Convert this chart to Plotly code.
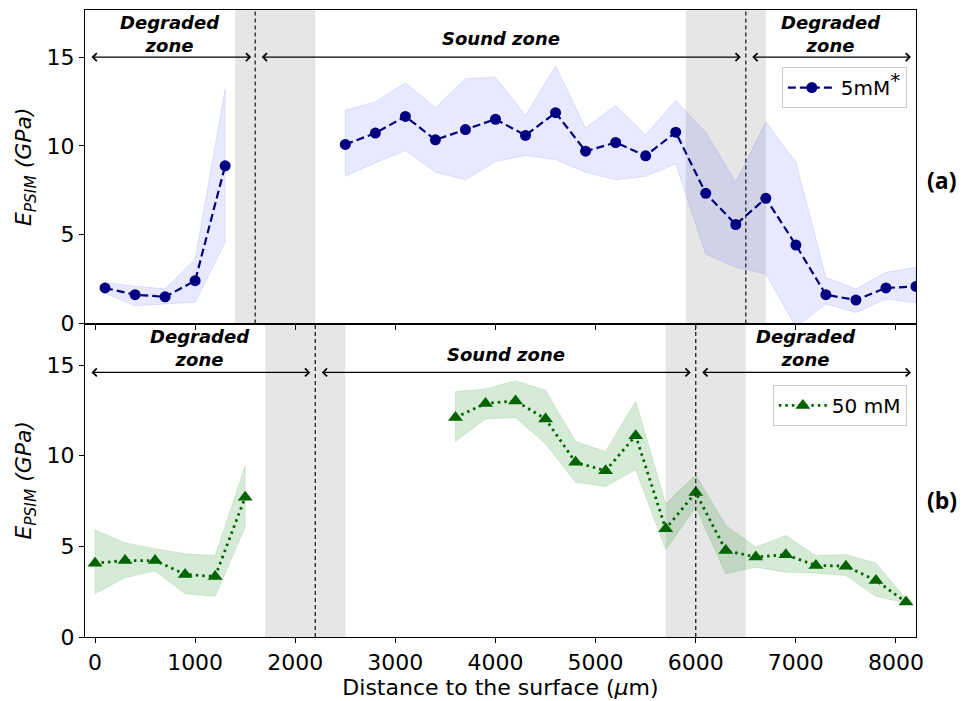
import plotly.graph_objects as go

# ---------------- data ----------------
# Panel (a): 5mM*
x_a = [100, 400, 700, 1000, 1300, None,
       2500, 2800, 3100, 3400, 3700, 4000, 4300, 4600, 4900, 5200,
       5500, 5800, 6100, 6400, 6700, 7000, 7300, 7600, 7900, 8200]
e_a = [2.00, 1.62, 1.50, 2.41, 8.88, None,
       10.08, 10.72, 11.66, 10.34, 10.92, 11.50, 10.59, 11.87, 9.70, 10.19,
       9.44, 10.77, 7.33, 5.57, 7.05, 4.42, 1.62, 1.32, 2.00, 2.09]
up_a = [2.30, 2.10, 1.95, 3.60, 13.20, None,
        12.00, 12.47, 13.56, 12.15, 13.78, 13.87, 11.71, 14.50, 11.00, 12.28,
        10.62, 12.56, 10.77, 7.95, 11.34, 9.08, 2.60, 1.94, 2.88, 3.16]
lo_a = [1.70, 1.00, 1.10, 1.20, 4.57, None,
        8.29, 9.05, 9.74, 8.52, 8.09, 9.12, 9.46, 9.23, 8.52, 8.09,
        8.29, 8.99, 3.91, 3.16, 2.79, -0.20, 1.10, 0.62, 1.38, 1.18]

# Panel (b): 50 mM
x_b = [0, 300, 600, 900, 1200, 1500, None,
       3600, 3900, 4200, 4500, 4800, 5100, 5400, 5700, 6000, 6300,
       6600, 6900, 7200, 7500, 7800, 8100]
e_b = [4.07, 4.22, 4.22, 3.45, 3.34, 7.71, None,
       12.11, 12.89, 13.03, 12.03, 9.64, 9.18, 11.11, 5.97, 7.98, 4.77,
       4.41, 4.54, 3.95, 3.91, 3.12, 1.93]
up_b = [5.91, 5.20, 4.87, 4.59, 4.50, 9.45, None,
        13.55, 13.68, 14.14, 13.62, 10.79, 10.24, 13.03, 7.35, 8.96, 6.15,
        4.96, 5.60, 4.50, 4.55, 4.08, 2.11]
lo_b = [2.39, 3.27, 3.64, 2.39, 2.24, 6.06, None,
        10.79, 12.03, 12.11, 10.65, 8.54, 8.30, 9.23, 4.81, 7.16, 3.49,
        3.85, 3.58, 3.52, 3.40, 2.24, 1.87]

# zone boundaries (um)
transition_a = [[1400, 2200], [5900, 6700]]
boundary_a = [1600, 6500]
transition_b = [[1700, 2500], [5700, 6500]]
boundary_b = [2200, 6000]

labels_a = ["5mM<sup><span style='font-size:20px'>*</span></sup>"]
labels_b = ["50 mM"]
zone_names = ["Degraded<br>zone", "Sound zone", "Degraded<br>zone"]
x_ticks = [0, 1000, 2000, 3000, 4000, 5000, 6000, 7000, 8000]
y_ticks = [0, 5, 10, 15]
x_lim = [-100, 8200]

FONT = "DejaVu Sans"


def band_polygon(xs, up, lo):
    """Split at None gaps; build closed polygons upper->lower reversed."""
    segs, cur = [], []
    for xv, u, l in zip(xs, up, lo):
        if xv is None:
            if cur:
                segs.append(cur)
            cur = []
        else:
            cur.append((xv, u, l))
    if cur:
        segs.append(cur)
    px, py = [], []
    for s in segs:
        xs_ = [p[0] for p in s]
        us = [p[1] for p in s]
        ls = [p[2] for p in s]
        px += xs_ + xs_[::-1] + [xs_[0], None]
        py += us + ls[::-1] + [us[0], None]
    return px[:-1], py[:-1]


fig = go.Figure()

# bands
bx, by = band_polygon(x_a, up_a, lo_a)
fig.add_trace(go.Scatter(x=bx, y=by, fill="toself", mode="lines",
                         fillcolor="rgba(0,0,255,0.09)",
                         line=dict(color="rgba(0,0,255,0.10)", width=1),
                         hoverinfo="skip", showlegend=False,
                         xaxis="x", yaxis="y"))
bx, by = band_polygon(x_b, up_b, lo_b)
fig.add_trace(go.Scatter(x=bx, y=by, fill="toself", mode="lines",
                         fillcolor="rgba(0,128,0,0.16)",
                         line=dict(color="rgba(0,128,0,0.12)", width=1),
                         hoverinfo="skip", showlegend=False,
                         xaxis="x2", yaxis="y2"))

# lines
fig.add_trace(go.Scatter(x=x_a, y=e_a, mode="lines+markers", name=labels_a[0],
                         line=dict(color="#000080", width=2.2, dash="8px,4px"),
                         marker=dict(symbol="circle", size=11, color="#000080"),
                         xaxis="x", yaxis="y", legend="legend"))
fig.add_trace(go.Scatter(x=x_b, y=e_b, mode="lines+markers", name=labels_b[0],
                         line=dict(color="#006400", width=2.8, dash="2.5px,4px"),
                         marker=dict(symbol="triangle-up", size=13, color="#006400"),
                         xaxis="x2", yaxis="y2", legend="legend2"))

shapes = []
for (x0, x1) in transition_a:
    shapes.append(dict(type="rect", xref="x", yref="y domain", x0=x0, x1=x1,
                       y0=0, y1=1, fillcolor="#e6e6e6", line=dict(width=0),
                       layer="below"))
for (x0, x1) in transition_b:
    shapes.append(dict(type="rect", xref="x2", yref="y2 domain", x0=x0, x1=x1,
                       y0=0, y1=1, fillcolor="#e6e6e6", line=dict(width=0),
                       layer="below"))
for xv in boundary_a:
    shapes.append(dict(type="line", xref="x", yref="y domain", x0=xv, x1=xv,
                       y0=0, y1=1, line=dict(color="#222", width=1.3, dash="4px,3px")))
for xv in boundary_b:
    shapes.append(dict(type="line", xref="x2", yref="y2 domain", x0=xv, x1=xv,
                       y0=0, y1=1, line=dict(color="#222", width=1.3, dash="4px,3px")))

annotations = []


def arrow(xr, yr, x0, x1, y):
    return dict(xref=xr, yref=yr, axref=xr, ayref=yr, x=x1, y=y, ax=x0, ay=y,
                text="", showarrow=True, arrowhead=4, startarrowhead=4,
                arrowside="end+start", arrowsize=1.3, startarrowsize=1.3,
                arrowwidth=1.2, arrowcolor="black")


def zone_text(xr, yr, x, y, t):
    return dict(xref=xr, yref=yr, x=x, y=y, text="<b><i>" + t + "</i></b>",
                showarrow=False, xanchor="center", yanchor="middle",
                font=dict(family=FONT, size=18, color="black"))


ya = 15
annotations += [arrow("x", "y", -50, 1560, ya),
                arrow("x", "y", 1650, 6450, ya),
                arrow("x", "y", 6550, 8150, ya)]
annotations += [zone_text("x", "y", (x_lim[0] + boundary_a[0]) / 2, 16.3, zone_names[0]),
                zone_text("x", "y", (boundary_a[0] + boundary_a[1]) / 2, 16.05, zone_names[1]),
                zone_text("x", "y", (boundary_a[1] + x_lim[1]) / 2, 16.3, zone_names[2])]
yb = 14.6
annotations += [arrow("x2", "y2", -50, 2150, yb),
                arrow("x2", "y2", 2250, 5950, yb),
                arrow("x2", "y2", 6050, 8150, yb)]
annotations += [zone_text("x2", "y2", (x_lim[0] + boundary_b[0]) / 2, 15.95, zone_names[0]),
                zone_text("x2", "y2", (boundary_b[0] + boundary_b[1]) / 2, 15.57, zone_names[1]),
                zone_text("x2", "y2", (boundary_b[1] + x_lim[1]) / 2, 15.95, zone_names[2])]

annotations += [dict(xref="paper", yref="paper", x=1.031, y=0.729, text="<b>(a)</b>",
                     showarrow=False, xanchor="center", yanchor="middle",
                     font=dict(family="Open Sans", size=23, color="black")),
                dict(xref="paper", yref="paper", x=1.031, y=0.2185, text="<b>(b)</b>",
                     showarrow=False, xanchor="center", yanchor="middle",
                     font=dict(family="Open Sans", size=23, color="black"))]

axis_common = dict(showline=True, linecolor="black", linewidth=1.3, mirror=True,
                   ticks="outside", ticklen=5, tickwidth=1.2, tickcolor="black",
                   showgrid=False, zeroline=False,
                   tickfont=dict(family=FONT, size=22, color="black"))

ytitle = "<i>E<sub>PSIM</sub> (GPa)</i>"

fig.update_layout(
    width=962, height=701,
    margin=dict(l=85, r=46, t=10, b=64, autoexpand=False),
    paper_bgcolor="white", plot_bgcolor="white",
    font=dict(family=FONT, color="black"),
    xaxis=dict(domain=[0, 1], anchor="y", range=x_lim, tickvals=x_ticks,
               showticklabels=False, **axis_common),
    yaxis=dict(domain=[0.5, 1], anchor="x", range=[0, 17.65], tickvals=y_ticks,
               title=dict(text=ytitle, font=dict(family=FONT, size=22), standoff=8),
               **axis_common),
    xaxis2=dict(domain=[0, 1], anchor="y2", range=x_lim, tickvals=x_ticks,
                title=dict(text="Distance to the surface (<i>\u03bc</i>m)",
                           font=dict(family=FONT, size=22), standoff=2),
                **axis_common),
    yaxis2=dict(domain=[0, 0.5], anchor="x2", range=[0, 17.3], tickvals=y_ticks,
                title=dict(text=ytitle, font=dict(family=FONT, size=22), standoff=8),
                **axis_common),
    shapes=shapes,
    annotations=annotations,
    legend=dict(x=0.989, y=0.909, xanchor="right", yanchor="top",
                bgcolor="rgba(255,255,255,0.8)", bordercolor="#cccccc", borderwidth=1,
                itemwidth=48, font=dict(family=FONT, size=20)),
    legend2=dict(x=0.989, y=0.402, xanchor="right", yanchor="top",
                 bgcolor="rgba(255,255,255,0.8)", bordercolor="#cccccc", borderwidth=1,
                 itemwidth=48, font=dict(family=FONT, size=20)),
)

fig.write_html("out.html", config={"displayModeBar": False},
               post_script="document.body.style.margin='0px';document.body.style.padding='0px';")
